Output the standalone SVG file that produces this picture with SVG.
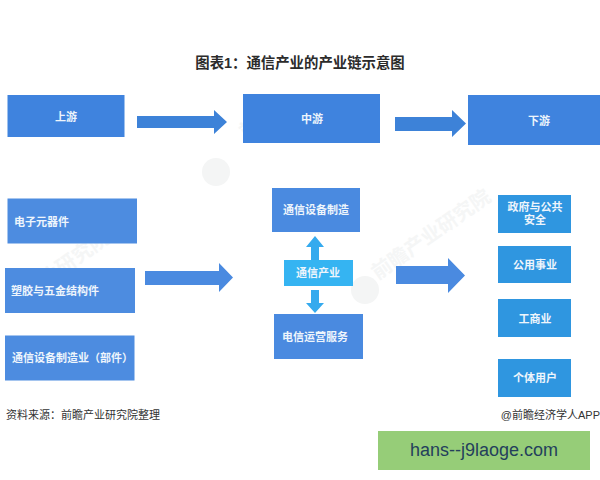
<svg xmlns="http://www.w3.org/2000/svg" width="600" height="480" viewBox="0 0 600 480">
<style>
text{font-family:"Liberation Sans","Noto Sans CJK SC",sans-serif}
.t{font-size:11px;font-weight:700;fill:#eef5fc;text-anchor:middle}
.l{text-anchor:start}
.h{fill:#3f83de}
.m{fill:#4d8ce0}
.c{fill:#4a8ae0}
.r{fill:#2f96e0}
.a{fill:#3d82d8}
.w{font-size:20px;font-weight:700;fill:#f5f6f6;text-anchor:middle}
</style>
<rect width="600" height="480" fill="#fff"/>
<g id="watermarks">
<text class="w" transform="translate(262,128) rotate(-35)">前瞻</text>
<text class="w" transform="translate(435,240) rotate(-35)">前瞻产业研究院</text>
<text class="w" transform="translate(70,270) rotate(-35)">产业研究院</text>
<circle cx="216" cy="172" r="14" fill="#f4f5f5"/>
<circle cx="365" cy="290" r="14" fill="#f4f5f5"/>
</g>
<text x="300" y="68" font-size="14.400" font-weight="700" fill="#2b2b2b" text-anchor="middle">图表1：通信产业的产业链示意图</text>
<g id="n-up"><rect class="h" x="7.500" y="95" width="117" height="42"/><text class="t" x="66" y="121">上游</text></g>
<g id="n-mid"><rect class="h" x="243" y="94" width="137" height="49"/><text class="t" x="312" y="123">中游</text></g>
<g id="n-down"><rect class="h" x="468" y="95" width="132" height="50"/><text class="t" x="539" y="125">下游</text></g>
<g id="n-elec"><rect class="m" x="7.500" y="198.500" width="129.500" height="45"/><text class="t l" x="14" y="226">电子元器件</text></g>
<g id="n-plastic"><rect class="m" x="5" y="268" width="130" height="45"/><text class="t l" x="11" y="295">塑胶与五金结构件</text></g>
<g id="n-parts"><rect class="m" x="5" y="335.500" width="129.500" height="45"/><text class="t l" x="12" y="362">通信设备制造业（部件）</text></g>
<g id="n-make"><rect class="c" x="272" y="188" width="88" height="44"/><text class="t" x="316" y="214">通信设备制造</text></g>
<g id="n-core"><rect fill="#35b4f2" x="284" y="260" width="69" height="26"/><text class="t" x="318" y="277">通信产业</text></g>
<g id="n-telecom"><rect class="c" x="274" y="314" width="89" height="45"/><text class="t" x="315" y="341">电信运营服务</text></g>
<g id="n-gov"><rect class="r" x="498" y="195" width="73" height="38"/><text class="t" x="535" y="211">政府与公共</text><text class="t" x="535" y="224">安全</text></g>
<g id="n-util"><rect class="r" x="498" y="246" width="73" height="37"/><text class="t" x="535" y="269">公用事业</text></g>
<g id="n-biz"><rect class="r" x="498" y="299" width="73" height="38"/><text class="t" x="535" y="323">工商业</text></g>
<g id="n-user"><rect class="r" x="498" y="359" width="73" height="38"/><text class="t" x="535" y="382">个体用户</text></g>
<g id="connectors">
<polygon class="a" points="137,116 214,116 214,110 227,122 214,134 214,128 137,128"/>
<polygon class="a" points="395,117 452,117 452,110 466,123.500 452,137 452,131 395,131"/>
<polygon fill="#4a8ae0" points="145,271 219,271 219,263 233,277.500 219,292 219,285 145,285"/>
<polygon fill="#4a8ae0" points="396,266 448,266 448,258 465,275.500 448,293 448,284 396,284"/>
<polygon fill="#35aaee" points="311,260 311,247 306,247 315,236 324,247 319,247 319,260"/>
<polygon fill="#35aaee" points="311,290 319,290 319,303 324,303 315,313 306,303 311,303"/>
</g>
<text x="6" y="419" font-size="11" fill="#333">资料来源：前瞻产业研究院整理</text>
<text x="600" y="419" font-size="11" fill="#333" text-anchor="end">@前瞻经济学人APP</text>
<g id="badge"><rect x="378" y="431" width="212" height="39" fill="#96cd78"/><text x="484" y="456" font-size="18" fill="#24405c" text-anchor="middle">hans--j9laoge.com</text></g>
</svg>
